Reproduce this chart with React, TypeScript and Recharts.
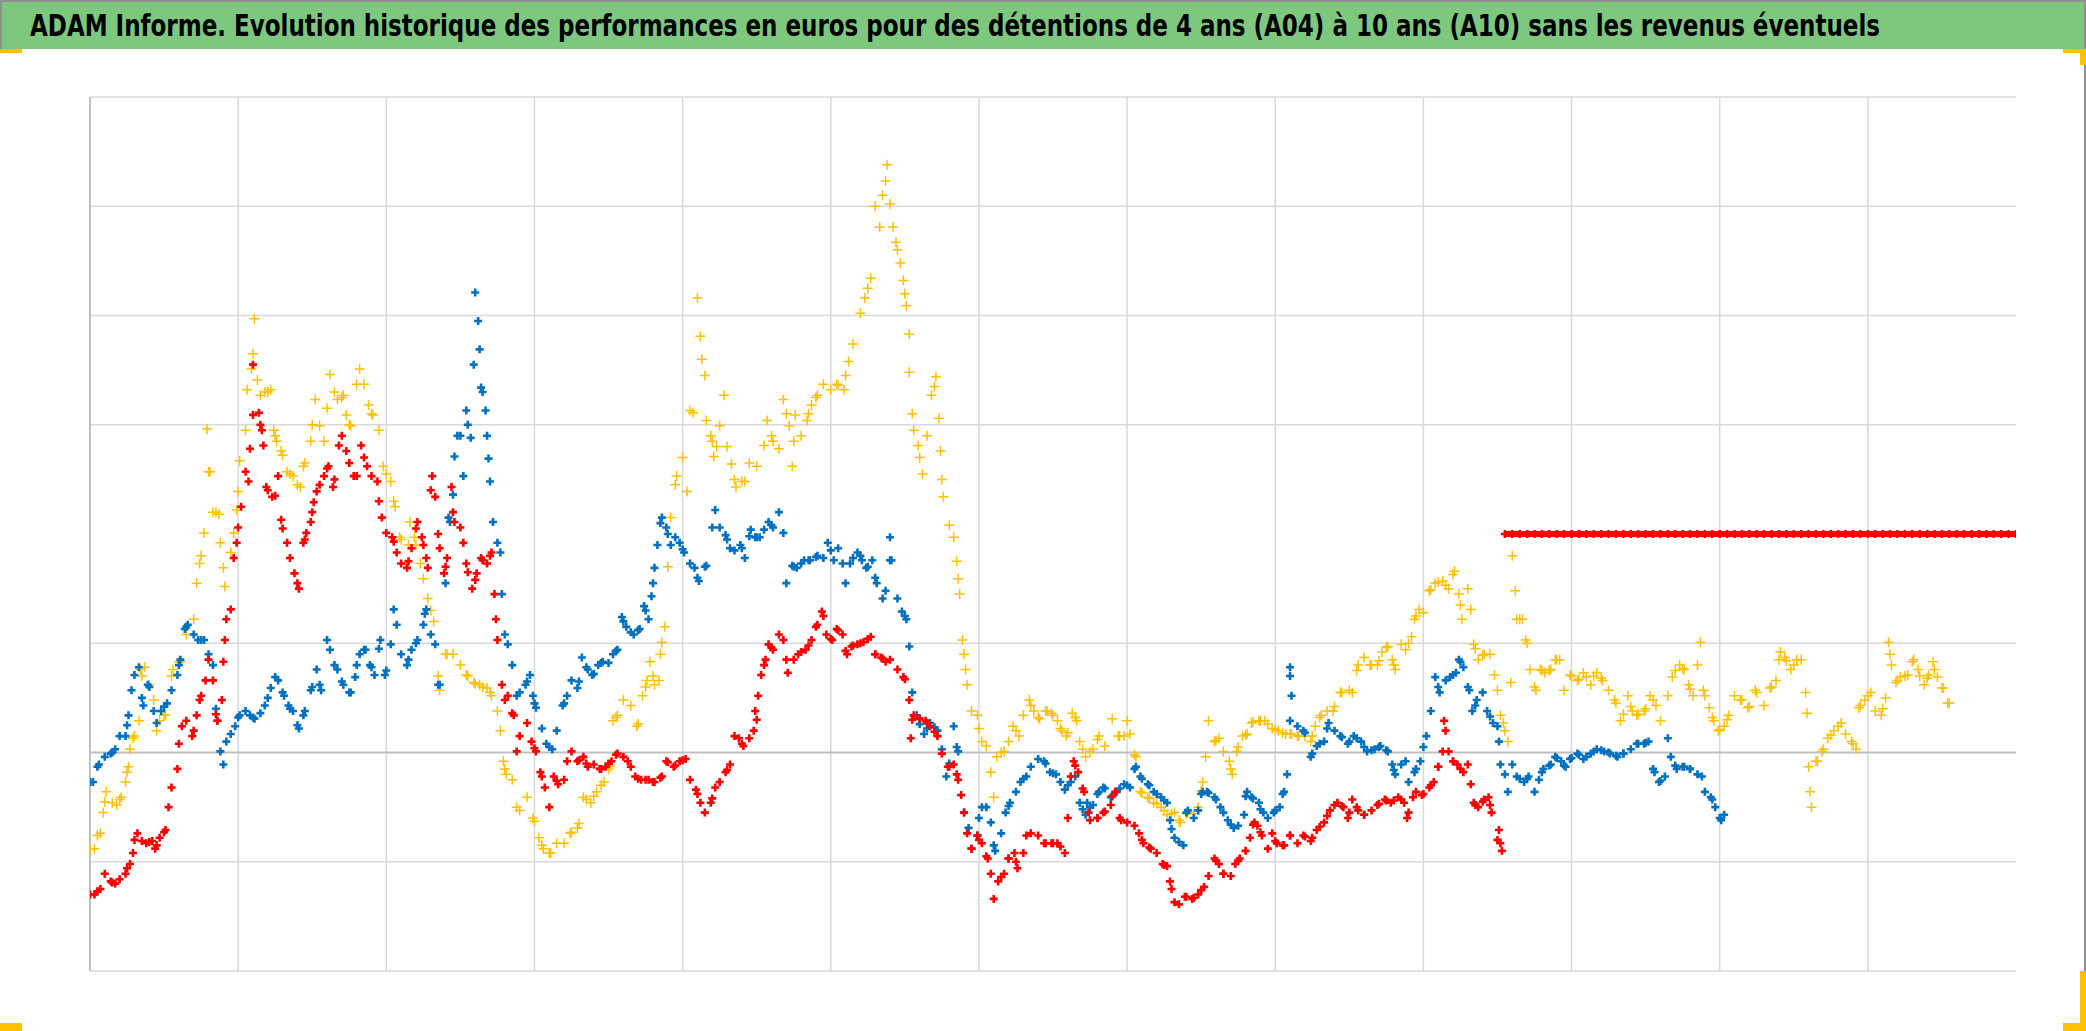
// @ts-nocheck
import { ScatterChart, Scatter, XAxis, YAxis, ReferenceLine } from 'recharts'

const TITLE = 'ADAM Informe. Evolution historique des performances en euros pour des détentions de 4 ans (A04) à 10 ans (A10) sans les revenus éventuels'

// x in years from the first date
const STEP = 0.05
const X_TICKS = [0, 1, 2, 3, 4, 5, 6, 7, 8, 9, 10, 11, 12]
// the original has no gridline at 20
const Y_TICKS = [-20, -10, 10, 30, 40, 50, 60]

// A10 (yellow), one value every STEP from x = 0
const yellowY = [
  -8.8, -7.6, -4.5, -4.6, -4.3, -1.8, 1.5, 7.0, 6.2, 2.0, 3.4, 7.0, 8.3, 10.8, 12.2, 18.0, 25.7, 22.0, 16.9, 18.3,
  23.9, 29.5, 36.5, 32.7, 33.0, 29.0, 27.2, 25.5, 24.5, 26.5, 30.0, 29.9, 31.5, 33.0, 32.5, 30.0, 33.7, 33.7, 31.0, 29.5,
  25.5, 23.0, 19.5, 19.0, 19.0, 15.9, 13.0, 7.0, 9.0, 9.0, 8.0, 7.0, 6.3, 6.0, 5.5, 3.8, -1.5, -2.5, -5.3, -4.1,
  -6.3, -8.5, -9.2, -8.3, -8.3, -7.3, -6.5, -4.3, -4.0, -3.0, -1.5, 3.2, 4.8, 4.3, 2.6, 6.0, 7.0, 9.0, 17.0, 24.5,
  27.0, 31.3, 41.6, 34.5, 28.5, 29.9, 28.0, 25.0, 24.8, 26.5, 26.2, 28.1, 29.0, 27.8, 31.0, 28.5, 29.0, 31.0, 32.5, 33.7,
  33.2, 33.6, 34.5, 37.4, 40.2, 42.5, 50.0, 51.0, 50.2, 46.0, 42.0, 31.0, 27.0, 29.0, 33.5, 25.0, 20.8, 17.5, 9.0, 3.8,
  2.2, 0.6, -4.1, 0.0, 1.0, 2.0, 3.4, 4.3, 3.2, 3.8, 3.4, 2.2, 1.8, 3.2, 0.3, 0.1, 1.2, 0.6, 3.1, 1.5,
  2.9, -0.2, -3.7, -4.2, -4.7, -5.3, -5.6, -6.2, -5.6, -5.6, -3.5, 2.9, 1.1, 0.1, -1.5, 0.5, 1.6, 2.8, 2.9, 2.6,
  2.1, 1.8, 1.7, 1.5, 1.5, 1.5, 3.2, 3.8, 4.2, 5.5, 5.7, 7.5, 8.7, 8.0, 8.4, 9.6, 8.0, 9.9, 10.0, 12.5,
  12.8, 14.9, 15.6, 15.3, 16.3, 13.5, 15.0, 9.5, 8.9, 9.0, 5.7, 2.0, 18.0, 12.2, 10.0, 6.0, 7.5, 7.5, 8.5, 5.7,
  7.0, 6.7, 6.9, 7.0, 6.8, 5.7, 4.5, 3.5, 4.2, 3.5, 4.0, 4.8, 2.9, 5.2, 7.5, 7.7, 5.8, 8.0, 5.2, 3.2,
  2.1, 3.0, 5.2, 4.8, 4.2, 5.5, 4.3, 6.0, 8.5, 8.4, 8.0, 8.5, -1.3, -0.8, 0.3, 1.6, 2.4, 1.7, 0.8, 4.3,
  5.2, 3.8, 4.0, 9.0, 6.6, 7.0, 8.3, 7.0, 6.8, 7.6, 5.9, 4.5,
]

// more yellow readings [x, y]
const yellowExtra = [
  [0.03, -8.8], [0.07, -7.4], [0.09, -5.5], [0.11, -3.6], [0.18, -4.8], [0.21, -4.1], [0.24, -2.7], [0.26, -1.3], [0.27, 0.3], [0.29, 1.3],
  [0.33, 2.9], [0.34, 7.6], [0.37, 7.8], [0.43, 4.8], [0.47, 2.9], [0.51, 3.4], [0.56, 7.6], [0.61, 8.3], [0.72, 15.5], [0.74, 17.3],
  [0.77, 20.1], [0.79, 29.6], [0.81, 25.7], [0.83, 22.0], [0.87, 21.8], [0.88, 19.2], [0.91, 15.2], [0.97, 20.1], [0.99, 22.2], [1.01, 26.7],
  [1.06, 33.2], [1.09, 35.1], [1.11, 39.7], [1.13, 34.1], [1.18, 33.0], [1.22, 33.2], [1.24, 29.5], [1.26, 28.5], [1.29, 27.6], [1.33, 25.7],
  [1.37, 25.3], [1.42, 24.3], [1.44, 26.2], [1.49, 28.5], [1.52, 32.3], [1.58, 28.5], [1.62, 34.6], [1.67, 32.3], [1.71, 32.7], [1.73, 30.9],
  [1.76, 29.9], [1.82, 35.1], [1.88, 31.8], [1.91, 30.9], [1.98, 26.2], [2.03, 24.8], [2.06, 22.5], [2.09, 19.7], [2.13, 17.3], [2.16, 21.1],
  [2.19, 19.7], [2.23, 17.3], [2.28, 14.1], [2.32, 12.0], [2.36, 5.7], [2.41, 9.0], [2.54, 7.1], [2.59, 6.4], [2.63, 6.2], [2.68, 5.9],
  [2.71, 5.2], [2.77, 2.0], [2.79, -0.8], [2.81, -2.0], [2.88, -5.0], [2.99, -6.0], [3.03, -7.8], [3.06, -8.8], [3.11, -9.2], [3.24, -7.4],
  [3.29, -6.9], [3.33, -4.1], [3.38, -4.6], [3.42, -3.6], [3.47, -2.7], [3.51, -1.3], [3.53, 2.9], [3.56, 3.4], [3.69, 2.4], [3.73, 5.2],
  [3.76, 6.6], [3.78, 8.3], [3.81, 6.2], [3.84, 6.6], [3.86, 10.1], [3.88, 11.5], [3.92, 21.5], [3.96, 25.3], [4.03, 23.9], [4.07, 31.1],
  [4.12, 38.1], [4.13, 36.0], [4.16, 30.4], [4.19, 29.0], [4.21, 27.1], [4.23, 28.0], [4.28, 32.7], [4.33, 26.4], [4.36, 24.3], [4.42, 24.8],
  [4.57, 30.4], [4.61, 28.5], [4.68, 32.3], [4.72, 29.9], [4.74, 26.2], [4.76, 30.9], [4.84, 30.4], [4.87, 31.8], [4.91, 32.7], [5.04, 33.7],
  [5.09, 33.2], [5.12, 35.8], [5.23, 41.6], [5.27, 43.4], [5.33, 48.1], [5.37, 52.3], [5.38, 53.8], [5.42, 48.1], [5.44, 46.7], [5.47, 44.8],
  [5.49, 43.2], [5.51, 40.9], [5.53, 38.3], [5.53, 34.8], [5.56, 29.5], [5.59, 28.1], [5.62, 25.5], [5.68, 32.7], [5.71, 34.4], [5.73, 30.6],
  [5.74, 27.6], [5.76, 23.4], [5.83, 19.7], [5.86, 15.9], [5.87, 14.5], [5.89, 10.3], [5.91, 7.6], [5.92, 6.2], [5.99, 3.4], [6.02, 1.0],
  [6.08, -1.8], [6.12, -0.4], [6.17, 0.1], [6.23, 2.4], [6.27, 1.5], [6.34, 4.8], [6.37, 3.8], [6.41, 3.1], [6.46, 3.8], [6.49, 3.6],
  [6.53, 2.9], [6.56, 2.0], [6.59, 1.5], [6.63, 3.6], [6.66, 2.9], [6.68, 1.0], [6.72, -0.4], [6.77, 0.3], [6.81, 1.5], [6.94, 1.5],
  [6.98, 1.5], [7.02, 1.7], [7.06, -0.4], [7.09, -3.6], [7.14, -4.1], [7.18, -4.6], [7.23, -5.0], [7.27, -5.7], [7.32, -5.5], [7.36, -6.4],
  [7.41, -5.5], [7.48, -5.0], [7.51, -2.7], [7.53, -0.4], [7.59, 1.0], [7.62, 1.3], [7.69, -0.8], [7.71, -2.0], [7.74, 0.1], [7.78, 1.5],
  [7.81, 1.7], [7.84, 2.7], [7.89, 2.9], [7.93, 2.9], [7.98, 2.2], [8.02, 2.0], [8.07, 1.7], [8.11, 1.7], [8.16, 1.5], [8.24, 1.0],
  [8.27, 2.4], [8.31, 3.4], [8.39, 3.8], [8.44, 5.5], [8.52, 5.5], [8.56, 8.0], [8.64, 8.0], [8.69, 8.0], [8.72, 9.2], [8.76, 9.7],
  [8.79, 8.5], [8.81, 7.6], [8.88, 9.4], [8.92, 10.6], [8.94, 12.2], [8.97, 13.1], [9.04, 14.8], [9.08, 15.5], [9.13, 15.7], [9.17, 15.0],
  [9.21, 16.6], [9.24, 14.5], [9.26, 12.2], [9.32, 13.1], [9.34, 9.9], [9.37, 8.5], [9.41, 9.0], [9.48, 7.1], [9.52, 3.4], [9.54, 2.7],
  [9.57, 1.0], [9.59, 6.4], [9.62, 14.8], [9.63, 12.2], [9.67, 12.2], [9.69, 10.3], [9.72, 7.6], [9.76, 5.7], [9.79, 7.6], [9.82, 7.3],
  [9.86, 7.6], [9.89, 8.5], [9.92, 8.5], [9.99, 7.1], [10.04, 6.6], [10.08, 7.3], [10.13, 6.2], [10.17, 7.3], [10.21, 6.6], [10.29, 4.8],
  [10.33, 2.9], [10.38, 5.2], [10.41, 3.8], [10.44, 3.4], [10.49, 3.8], [10.53, 5.2], [10.57, 4.3], [10.68, 6.9], [10.73, 8.0], [10.76, 7.6],
  [10.79, 6.2], [10.82, 5.2], [10.87, 10.1], [10.89, 5.7], [10.93, 4.1], [10.96, 2.9], [10.99, 2.0], [11.03, 2.4], [11.06, 3.4], [11.14, 4.8],
  [11.19, 4.1], [11.24, 5.7], [11.34, 5.9], [11.38, 6.6], [11.41, 9.2], [11.44, 8.7], [11.48, 7.6], [11.52, 8.5], [11.58, 5.5], [11.59, 3.6],
  [11.61, -3.6], [11.62, -5.0], [11.66, -0.8], [11.69, 0.1], [11.73, 1.3], [11.77, 2.0], [11.82, 2.7], [11.89, 1.0], [11.92, 0.3], [11.94, 4.1],
  [11.98, 4.8], [12.02, 5.5], [12.09, 3.4], [12.12, 5.0], [12.14, 10.1], [12.16, 8.0], [12.19, 6.4], [12.22, 6.9], [12.27, 7.1], [12.31, 8.5],
  [12.34, 7.6], [12.38, 6.2], [12.41, 7.1], [12.44, 8.3], [12.47, 6.9], [12.51, 5.9], [12.54, 4.5],
]

// blue, one value every STEP from x = 0
const blueY = [
  -2.7, -1.3, -0.4, 0.0, 1.5, 2.5, 7.1, 5.0, 6.0, 2.7, 4.2, 5.7, 8.0, 11.5, 10.8, 10.3, 9.0, 4.0, -1.1, 1.7,
  3.2, 3.8, 3.2, 3.6, 5.0, 6.9, 5.5, 4.0, 2.5, 3.8, 6.0, 6.2, 10.3, 8.0, 6.5, 5.5, 8.0, 9.4, 7.8, 9.5,
  7.5, 13.1, 9.0, 8.5, 10.0, 11.7, 10.8, 6.2, 15.5, 23.6, 29.0, 30.0, 42.1, 33.0, 24.8, 19.2, 10.8, 8.0, 5.5, 6.5,
  4.5, 2.2, 0.5, 2.0, 4.5, 6.6, 6.5, 7.8, 7.2, 8.2, 8.2, 9.3, 12.0, 11.0, 11.2, 13.0, 15.5, 21.0, 20.0, 19.7,
  18.6, 17.3, 16.0, 17.0, 20.6, 20.6, 19.5, 18.5, 18.7, 19.8, 19.7, 20.4, 20.8, 22.0, 15.5, 17.0, 17.3, 17.6, 17.9, 17.8,
  18.5, 18.7, 15.5, 17.8, 18.0, 17.0, 16.0, 14.1, 17.6, 14.1, 12.5, 5.5, 2.6, 2.2, 2.3, 0.3, -1.0, 0.5, -5.5, -8.8,
  -6.0, -5.0, -8.5, -7.4, -4.9, -3.6, -2.4, -1.3, -0.6, -1.0, -1.9, -2.7, -3.0, -2.2, -5.2, -5.0, -3.8, -3.3, -4.0, -3.3,
  -3.0, -1.5, -2.4, -3.0, -3.8, -4.4, -7.0, -8.2, -5.5, -6.0, -3.8, -3.7, -4.3, -5.5, -6.6, -6.7, -4.0, -4.2, -5.2, -6.0,
  -5.3, -3.8, 7.0, 2.4, 1.8, -0.1, 0.8, 2.2, 2.0, 1.4, 1.0, 1.3, 0.5, 0.2, 0.5, 0.2, -1.6, -1.1, -2.7, -1.5,
  0.5, 3.8, 6.0, 6.6, 7.1, 8.3, 6.0, 4.3, 5.5, 3.3, 2.4, -2.0, -1.1, -2.4, -2.4, -3.6, -1.8, -1.2, -0.5, -1.2,
  -0.5, -0.2, -0.4, 0.1, 0.2, 0.0, -0.3, -0.1, 0.3, 0.8, 0.9, -1.5, -2.6, 1.3, -1.2, -1.3, -1.5, -2.0, -3.6, -4.3,
  -6.0,
]

// more blue readings [x, y]
const blueExtra = [
  [0.02, -2.7], [0.06, -1.1], [0.14, -0.1], [0.17, 0.3], [0.24, 1.5], [0.26, 3.4], [0.28, 5.7], [0.33, 7.8], [0.36, 4.3], [0.39, 6.2],
  [0.43, 3.8], [0.48, 3.8], [0.52, 4.5], [0.59, 7.1], [0.61, 8.5], [0.64, 11.3], [0.66, 11.7], [0.73, 10.3], [0.77, 10.3], [0.83, 8.0],
  [0.86, 2.9], [0.88, 0.1], [0.92, 1.0], [0.98, 2.4], [1.01, 3.4], [1.08, 3.4], [1.11, 3.1], [1.18, 4.3], [1.22, 5.9], [1.27, 6.6],
  [1.31, 5.2], [1.34, 4.3], [1.37, 3.8], [1.41, 2.2], [1.44, 3.4], [1.49, 5.7], [1.53, 7.6], [1.56, 5.7], [1.62, 9.4], [1.67, 7.6],
  [1.71, 6.2], [1.76, 5.5], [1.79, 6.9], [1.82, 9.0], [1.86, 9.4], [1.89, 8.0], [1.92, 7.1], [1.96, 10.3], [1.99, 7.1], [2.03, 9.9],
  [2.07, 11.7], [2.14, 8.0], [2.17, 9.4], [2.21, 10.3], [2.27, 13.1], [2.26, 12.7], [2.33, 9.9], [2.36, 6.2], [2.42, 21.5], [2.43, 21.1],
  [2.46, 27.1], [2.48, 29.0], [2.52, 25.3], [2.54, 31.3], [2.57, 28.8], [2.59, 35.5], [2.62, 39.5], [2.63, 36.9], [2.64, 33.4], [2.67, 31.3],
  [2.68, 29.0], [2.69, 26.9], [2.72, 21.1], [2.77, 18.3], [2.78, 14.5], [2.82, 9.9], [2.88, 5.2], [2.94, 6.2], [2.97, 7.1], [2.99, 5.2],
  [3.01, 4.1], [3.08, 0.8], [3.12, 0.3], [3.19, 4.3], [3.22, 5.2], [3.29, 5.9], [3.32, 8.7], [3.36, 7.6], [3.39, 7.1], [3.43, 8.0],
  [3.46, 8.3], [3.53, 9.0], [3.56, 9.4], [3.59, 12.4], [3.62, 11.5], [3.67, 10.8], [3.71, 11.3], [3.74, 13.4], [3.77, 12.2], [3.79, 14.3],
  [3.81, 16.9], [3.83, 19.0], [3.86, 21.5], [3.89, 20.6], [3.92, 19.0], [3.98, 19.2], [4.01, 18.3], [4.08, 16.9], [4.11, 15.7], [4.16, 17.1],
  [4.22, 22.2], [4.29, 19.9], [4.32, 18.7], [4.39, 19.0], [4.42, 17.8], [4.46, 20.4], [4.49, 19.7], [4.52, 19.7], [4.58, 21.1], [4.61, 20.6],
  [4.68, 20.1], [4.74, 17.1], [4.77, 16.9], [4.82, 17.6], [4.86, 17.6], [4.91, 18.0], [4.98, 19.2], [5.02, 17.6], [5.08, 17.3], [5.13, 17.3],
  [5.18, 18.3], [5.21, 17.6], [5.24, 16.9], [5.28, 17.6], [5.31, 15.5], [5.37, 14.8], [5.40, 19.7], [5.41, 17.6], [5.48, 12.9], [5.51, 12.2],
  [5.53, 9.7], [5.58, 3.4], [5.63, 1.7], [5.67, 2.7], [5.72, 2.0], [5.78, -2.2], [5.83, 2.4], [5.86, 0.1], [5.93, -6.9], [5.99, -7.6],
  [6.02, -5.0], [6.08, -6.4], [6.11, -9.0], [6.18, -5.5], [6.21, -4.6], [6.28, -2.7], [6.32, -2.2], [6.44, -0.8], [6.48, -1.8], [6.52, -2.0],
  [6.58, -3.4], [6.62, -2.7], [6.68, -4.6], [6.72, -5.7], [6.73, -4.6], [6.77, -4.8], [6.81, -3.6], [6.84, -3.2], [6.89, -4.1], [6.93, -3.6],
  [6.98, -2.9], [7.02, -3.2], [7.06, -1.3], [7.09, -2.2], [7.14, -2.9], [7.18, -3.6], [7.23, -4.1], [7.27, -4.6], [7.29, -6.2], [7.32, -7.8],
  [7.38, -8.5], [7.41, -5.3], [7.48, -5.3], [7.51, -3.6], [7.54, -3.6], [7.59, -4.1], [7.63, -5.0], [7.68, -6.2], [7.72, -6.9], [7.79, -5.7],
  [7.81, -3.6], [7.84, -4.1], [7.89, -4.6], [7.92, -5.5], [7.99, -5.5], [8.03, -5.0], [8.06, -3.6], [8.08, -2.0], [8.10, 2.9], [8.11, 5.2],
  [8.10, 7.8], [8.19, 2.0], [8.24, -0.4], [8.28, 0.6], [8.33, 1.0], [8.36, 2.7], [8.44, 1.5], [8.49, 0.8], [8.53, 1.5], [8.58, 1.0],
  [8.62, 0.1], [8.67, 0.3], [8.71, 0.6], [8.76, 0.1], [8.79, -1.1], [8.81, -2.0], [8.88, -0.8], [8.94, -1.8], [8.98, -0.8], [9.02, 1.5],
  [9.08, 6.9], [9.11, 5.5], [9.18, 6.9], [9.22, 7.3], [9.24, 8.5], [9.27, 7.8], [9.31, 5.7], [9.33, 3.8], [9.36, 4.8], [9.43, 3.8],
  [9.47, 2.7], [9.51, 1.0], [9.52, -1.1], [9.57, -3.6], [9.63, -2.2], [9.68, -2.7], [9.71, -2.2], [9.78, -2.5], [9.81, -1.5], [9.86, -1.1],
  [9.89, -0.4], [9.93, -0.8], [9.96, -1.3], [9.99, -0.6], [10.04, -0.1], [10.08, -0.6], [10.13, -0.1], [10.17, 0.3], [10.22, 0.1], [10.26, -0.1],
  [10.31, -0.4], [10.35, -0.1], [10.44, 0.8], [10.49, 0.8], [10.52, 1.0], [10.56, -1.8], [10.59, -2.7], [10.63, -2.2], [10.67, -0.4], [10.71, -1.5],
  [10.76, -1.3], [10.80, -1.5], [10.88, -2.2], [10.94, -4.1], [10.97, -5.0], [11.01, -6.2], [11.03, -5.7],
]

// red, one value every STEP from x = 0
const redY = [
  -13.0, -12.7, -11.1, -11.9, -11.6, -10.6, -8.0, -8.1, -8.2, -8.5, -7.3, -3.2, 0.8, 2.9, 2.0, 5.2, 8.5, 3.5, 8.3, 13.1,
  20.6, 25.7, 35.5, 30.0, 24.0, 23.5, 20.5, 17.8, 15.5, 19.5, 22.0, 24.5, 26.0, 25.0, 29.0, 26.5, 25.3, 27.0, 25.3, 23.0,
  20.1, 19.3, 17.3, 17.5, 20.5, 19.0, 24.0, 20.0, 17.0, 22.0, 20.6, 16.5, 15.8, 17.6, 18.0, 10.3, 4.8, 3.6, 1.5, 2.7,
  0.4, -2.2, -5.0, -2.6, -2.5, 0.1, -0.7, -1.0, -1.1, -1.5, -1.0, -0.2, -0.4, -1.3, -2.4, -2.5, -2.7, -2.3, -0.9, -1.2,
  -0.7, -2.5, -3.8, -5.5, -4.2, -2.7, -1.6, 1.5, 0.8, 1.3, 3.0, 8.0, 9.6, 10.8, 8.5, 8.5, 9.2, 9.8, 11.5, 12.5,
  10.4, 11.2, 9.3, 9.8, 10.0, 10.4, 9.0, 8.6, 8.5, 7.6, 6.7, 3.0, 3.1, 2.7, 1.9, -0.1, -1.3, -2.0, -5.5, -8.8,
  -8.0, -9.5, -13.4, -11.4, -9.7, -10.0, -9.2, -7.4, -7.6, -8.3, -8.3, -8.6, -6.0, -1.2, -3.3, -6.2, -6.0, -5.4, -4.0, -6.0,
  -6.4, -6.7, -8.0, -8.7, -9.2, -10.3, -12.5, -13.9, -13.2, -13.3, -12.6, -11.3, -9.9, -11.1, -11.3, -9.9, -9.0, -6.6, -7.3, -8.8,
  -8.1, -8.5, -7.6, -8.3, -7.7, -7.8, -6.8, -5.8, -4.8, -4.9, -5.5, -5.0, -5.7, -5.3, -4.7, -4.4, -4.4, -4.3, -5.5, -3.6,
  -3.8, -3.0, -1.3, 2.0, -0.8, -1.5, -1.1, -4.8, -4.5, -4.8, -8.0,
]

// more red readings [x, y]
const redExtra = [
  [0.03, -13.0], [0.07, -12.5], [0.14, -11.8], [0.17, -12.0], [0.24, -11.1], [0.27, -10.2], [0.29, -9.2], [0.32, -7.4], [0.38, -8.3], [0.42, -8.1],
  [0.44, -8.8], [0.47, -7.8], [0.51, -7.1], [0.53, -5.0], [0.59, -1.5], [0.62, 2.4], [0.69, 1.5], [0.72, 3.4], [0.74, 4.8], [0.78, 6.6],
  [0.83, 6.6], [0.86, 2.9], [0.89, 4.8], [0.91, 10.3], [0.92, 12.2], [0.97, 17.8], [0.99, 19.2], [1.02, 22.5], [1.07, 24.8], [1.08, 27.8],
  [1.10, 30.9], [1.14, 31.1], [1.16, 29.5], [1.17, 28.1], [1.19, 24.3], [1.23, 23.4], [1.27, 25.3], [1.29, 21.3], [1.33, 19.2], [1.38, 16.4],
  [1.41, 15.0], [1.44, 19.2], [1.46, 20.1], [1.49, 21.1], [1.51, 22.9], [1.53, 23.9], [1.58, 25.3], [1.61, 26.2], [1.64, 24.3], [1.68, 28.1],
  [1.73, 27.6], [1.78, 25.3], [1.83, 28.1], [1.87, 26.2], [1.94, 24.8], [1.97, 21.5], [2.04, 19.7], [2.07, 18.3], [2.14, 16.9], [2.17, 18.7],
  [2.21, 21.1], [2.24, 19.7], [2.27, 17.8], [2.28, 16.9], [2.31, 25.3], [2.33, 23.4], [2.36, 18.7], [2.39, 16.4], [2.41, 17.8], [2.44, 24.3],
  [2.46, 21.1], [2.52, 19.2], [2.54, 17.3], [2.58, 15.0], [2.61, 16.4], [2.64, 17.8], [2.68, 17.3], [2.71, 18.3], [2.73, 14.5], [2.74, 12.2],
  [2.78, 6.2], [2.82, 5.2], [2.86, 3.4], [2.88, 0.1], [2.98, 1.0], [3.01, 0.1], [3.04, -1.8], [3.07, -3.2], [3.13, -2.2], [3.16, -2.9],
  [3.22, -0.8], [3.29, -0.8], [3.33, -0.4], [3.36, -1.3], [3.44, -1.5], [3.48, -1.3], [3.52, -0.8], [3.56, -0.1], [3.63, -0.8], [3.68, -2.2],
  [3.72, -2.5], [3.77, -2.5], [3.81, -2.7], [3.86, -2.2], [3.89, -0.8], [3.94, -1.3], [3.98, -0.8], [4.02, -0.6], [4.09, -3.4], [4.12, -4.6],
  [4.19, -4.6], [4.22, -3.2], [4.29, -1.8], [4.32, -1.1], [4.38, 1.3], [4.41, 0.6], [4.48, 2.0], [4.49, 3.8], [4.51, 5.2], [4.53, 7.1],
  [4.56, 8.5], [4.58, 9.9], [4.61, 9.4], [4.68, 10.3], [4.71, 7.3], [4.78, 9.0], [4.83, 9.4], [4.87, 10.3], [4.91, 11.7], [4.94, 12.9],
  [4.97, 10.8], [5.01, 10.3], [5.04, 11.3], [5.08, 10.8], [5.11, 9.0], [5.14, 9.7], [5.18, 9.9], [5.22, 10.1], [5.27, 10.6], [5.30, 9.0],
  [5.34, 8.7], [5.37, 8.3], [5.49, 6.9], [5.53, 4.8], [5.54, 1.3], [5.56, 3.4], [5.64, 2.9], [5.67, 2.4], [5.72, 1.5], [5.79, -1.3],
  [5.83, -1.1], [5.86, -2.5], [5.88, -3.9], [5.92, -7.4], [5.99, -7.6], [6.02, -8.3], [6.06, -9.7], [6.08, -11.1], [6.13, -11.8], [6.17, -11.1],
  [6.20, -9.7], [6.24, -9.2], [6.26, -10.6], [6.32, -7.6], [6.44, -8.3], [6.49, -8.3], [6.53, -8.3], [6.58, -9.2], [6.62, -2.2], [6.64, -0.8],
  [6.67, -1.8], [6.71, -3.6], [6.74, -5.5], [6.80, -6.0], [6.84, -5.5], [6.89, -4.8], [6.92, -3.6], [6.96, -6.2], [7.08, -7.4], [7.11, -8.3],
  [7.16, -8.8], [7.24, -10.2], [7.27, -10.4], [7.29, -11.8], [7.32, -13.7], [7.39, -13.2], [7.44, -13.4], [7.48, -13.0], [7.52, -12.3], [7.59, -9.7],
  [7.62, -10.2], [7.65, -11.1], [7.73, -10.2], [7.76, -9.7], [7.83, -7.8], [7.86, -6.4], [7.88, -6.7], [7.91, -7.6], [7.98, -7.4], [8.01, -8.3],
  [8.06, -8.5], [8.10, -7.6], [8.19, -7.6], [8.24, -8.1], [8.28, -7.1], [8.33, -6.4], [8.37, -5.3], [8.42, -4.6], [8.46, -5.0], [8.49, -6.0],
  [8.52, -4.3], [8.56, -5.3], [8.60, -5.7], [8.69, -4.8], [8.74, -4.3], [8.78, -4.6], [8.83, -4.1], [8.87, -4.6], [8.89, -6.0], [8.93, -4.1],
  [8.99, -3.9], [9.04, -3.2], [9.07, -2.7], [9.10, -1.3], [9.13, 0.1], [9.14, 2.9], [9.17, 0.1], [9.20, -0.8], [9.23, -1.1], [9.27, -1.8],
  [9.32, -2.9], [9.34, -4.6], [9.37, -5.0], [9.41, -4.3], [9.44, -4.1], [9.46, -5.5], [9.51, -7.1], [9.52, -8.3], [9.53, -9.0],
]

// red, flat part from 9.55 to the end, one value every STEP
const RED_FLAT_START = 9.55
const redFlatY = [
  20, 20, 20, 20, 20, 20, 20, 20, 20, 20, 20, 20, 20, 20, 20, 20, 20, 20, 20, 20,
  20, 20, 20, 20, 20, 20, 20, 20, 20, 20, 20, 20, 20, 20, 20, 20, 20, 20, 20, 20,
  20, 20, 20, 20, 20, 20, 20, 20, 20, 20, 20, 20, 20, 20, 20, 20, 20, 20, 20, 20,
  20, 20, 20, 20, 20, 20, 20, 20, 20, 20,
]

const YELLOW = '#FFC000'
const BLUE = '#0070C0'
const RED = '#FF0000'
const GRID = '#d9d9d9'

const toPoints = (ys, x0 = 0) => ys.map((y, i) => ({ x: Math.round((x0 + i * STEP) * 100) / 100, y }))
const fromPairs = (pairs) => pairs.map(([x, y]) => ({ x, y }))

const cross = (size, width, color) => (props) => {
  const { cx, cy } = props
  if (cx == null || cy == null) return null
  const h = size / 2
  return (
    <path
      d={`M${cx - h},${cy}H${cx + h}M${cx},${cy - h}V${cy + h}`}
      stroke={color}
      strokeWidth={width}
      fill="none"
    />
  )
}

const box = (style) => <div style={{ position: 'absolute', ...style }} />

export default function App() {
  const yellowPts = toPoints(yellowY).concat(fromPairs(yellowExtra))
  const bluePts = toPoints(blueY).concat(fromPairs(blueExtra))
  const redPts = toPoints(redY).concat(fromPairs(redExtra))
  return (
    <div style={{ position: 'absolute', left: 0, top: 0, width: 2086, height: 1031, background: '#fff', overflow: 'hidden' }}>
      <div style={{ position: 'absolute', left: 0, top: 0 }}>
        <ScatterChart width={2086} height={1031} margin={{ top: 97, right: 70, bottom: 60, left: 90 }}>
          <XAxis type="number" dataKey="x" domain={[0, 13]} ticks={X_TICKS} tick={false} tickLine={false} axisLine={false} height={0} allowDataOverflow />
          <YAxis type="number" dataKey="y" domain={[-20, 60]} ticks={Y_TICKS} tick={false} tickLine={false} axisLine={false} width={0} allowDataOverflow />
          {Y_TICKS.map((v) => (
            <ReferenceLine key={'h' + v} y={v} stroke={GRID} strokeWidth={1.5} />
          ))}
          {X_TICKS.map((v) => (
            <ReferenceLine key={'v' + v} x={v} stroke={v === 0 ? '#bfbfbf' : GRID} strokeWidth={v === 0 ? 2 : 1.5} />
          ))}
          <ReferenceLine y={0} stroke="#bfbfbf" strokeWidth={2} />
          <Scatter data={yellowPts} shape={cross(10, 1.5, YELLOW)} isAnimationActive={false} />
          <Scatter data={bluePts} shape={cross(8, 2.6, BLUE)} isAnimationActive={false} />
          <Scatter data={redPts} shape={cross(8, 2.6, RED)} isAnimationActive={false} />
          <Scatter
            data={toPoints(redFlatY, RED_FLAT_START)}
            shape={cross(8, 2.6, RED)}
            line={{ stroke: RED, strokeWidth: 6 }}
            isAnimationActive={false}
          />
        </ScatterChart>
      </div>

      {box({ left: 0, top: 0, width: 2084, height: 49, background: '#7dc87e' })}
      <svg width={2084} height={49} style={{ position: 'absolute', left: 0, top: 0, overflow: 'visible' }}>
        <g transform="scale(1,1.25)">
          <text
            x={30}
            y={29}
            textLength={1850}
            lengthAdjust="spacingAndGlyphs"
            fontFamily="'Liberation Sans Narrow', 'DejaVu Sans Condensed', 'Liberation Sans', sans-serif"
            fontWeight="bold"
            fontSize={23.5}
            fill="#000"
          >
            {TITLE}
          </text>
        </g>
      </svg>
      {box({ left: 0, top: 0, width: 2086, height: 2, background: '#8f8f8f' })}
      {box({ left: 0, top: 0, width: 2, height: 49, background: '#8f8f8f' })}
      {box({ left: 2084, top: 0, width: 2, height: 1031, background: '#8f8f8f' })}

      {box({ left: 0, top: 49, width: 22, height: 4, background: YELLOW })}
      {box({ left: 2063, top: 49, width: 23, height: 4, background: YELLOW })}
      {box({ left: 2080, top: 49, width: 6, height: 16, background: YELLOW })}
      {box({ left: 0, top: 1023, width: 22, height: 8, background: YELLOW })}
      {box({ left: 2063, top: 1023, width: 23, height: 8, background: YELLOW })}
      {box({ left: 2080, top: 971, width: 6, height: 60, background: YELLOW })}
    </div>
  )
}
